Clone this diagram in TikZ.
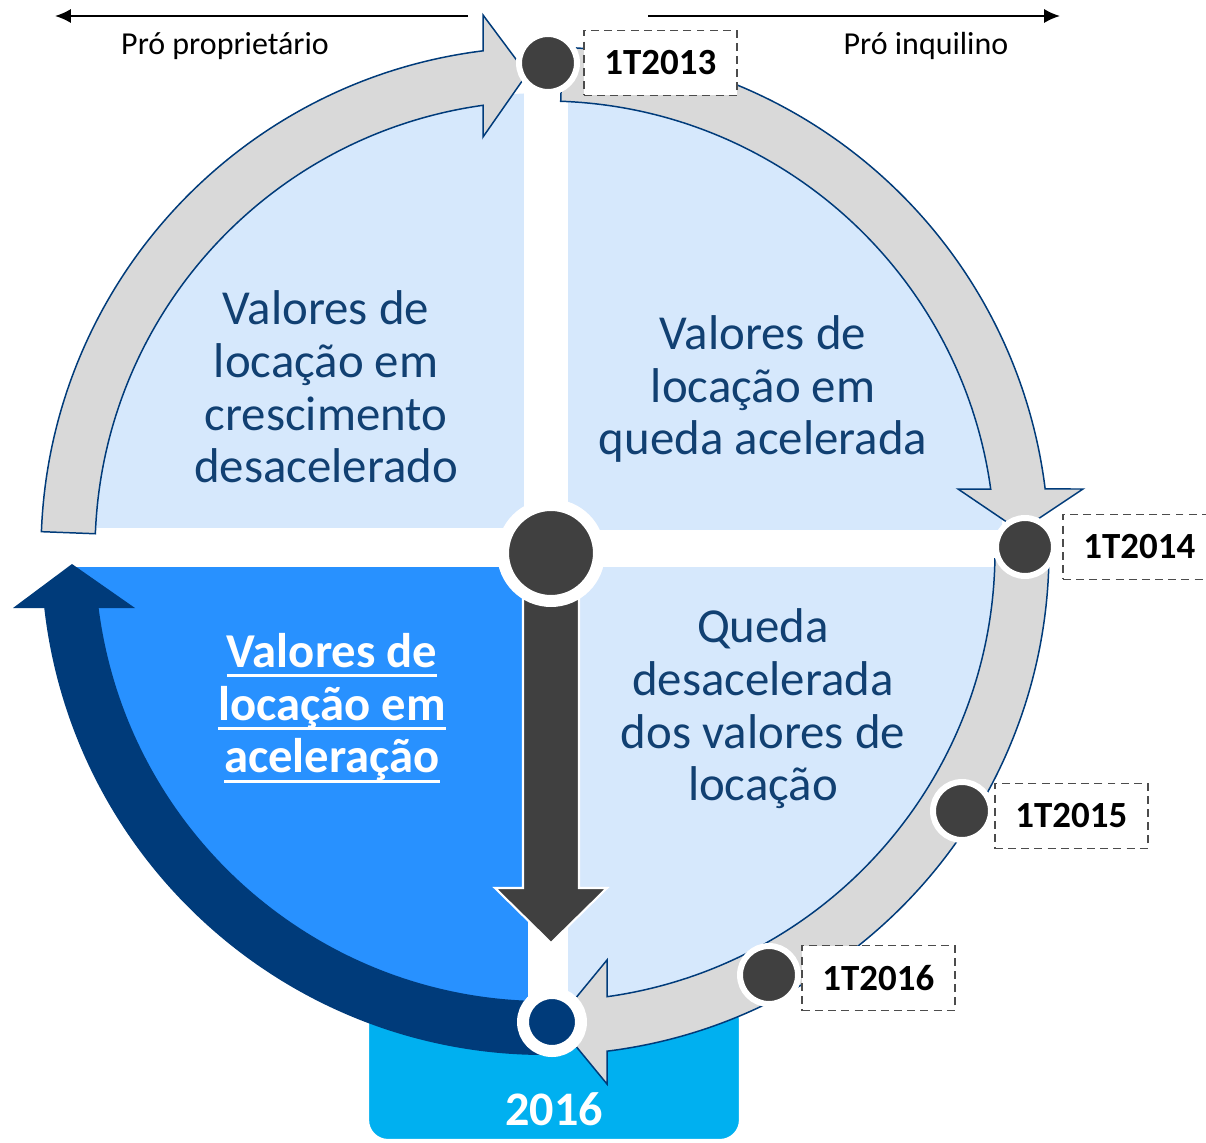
\documentclass[tikz,border=0pt]{standalone}
\usepackage{fontspec}
\setmainfont{Carlito}
\usepackage{tikz}
\usetikzlibrary{positioning, arrows.meta}

\newsavebox{\caixasub}
\newcommand{\sublinha}[1]{\sbox{\caixasub}{#1}\rlap{\rule[-5.5pt]{\wd\caixasub}{1.7pt}}\usebox{\caixasub}}

\definecolor{azulclaro}{RGB}{214,232,252}
\definecolor{azulvivo}{RGB}{40,145,255}
\definecolor{azulescuro}{RGB}{0,59,122}
\definecolor{cinzaanel}{RGB}{217,217,217}
\definecolor{cinzaponto}{RGB}{64,64,64}
\definecolor{ciano}{RGB}{0,176,240}
\definecolor{textoazul}{RGB}{17,64,114}

\tikzset{
  marco/.style={circle, fill=cinzaponto, draw=white, line width=0.12cm, minimum size=1.16cm, inner sep=0pt},
  rotulo/.style={draw=black!70, dash pattern=on 4.5pt off 3pt, line width=1pt, fill=white, minimum width=3.06cm, minimum height=1.3cm, inner sep=0pt, font=\fontsize{21}{24}\selectfont\bfseries},
  quadtexto/.style={align=center, text=textoazul, font=\fontsize{27.8}{30}\selectfont},
  anel/.style={fill=cinzaanel, draw=azulescuro, line width=0.85pt},
  setatopo/.style={-{Latex[length=9pt,width=8pt]}, line width=1.1pt},
}

\begin{document}
\begin{tikzpicture}[x=0.02cm, y=0.02cm]
\useasboundingbox (0,0) rectangle (1206,-1142);
\coordinate (O) at (545,-551);

% Caixa do ano
\node[fill=ciano, draw=white, line width=1.2pt, rounded corners=0.4cm, minimum width=7.44cm, minimum height=2.8cm] (ano) at (554,-1070) {};
\node[text=white, font=\fontsize{27.4}{30}\selectfont\bfseries] (anotxt) at ([yshift=0.64cm]ano.south) {2016};

% Quadrantes
\begin{scope}
\clip (O) circle[radius=470];
\fill[azulvivo] (0,-567) rectangle (528,-1142);
\end{scope}
\begin{scope}
\clip (O) circle[radius=458];
\fill[azulclaro] (0,-528) rectangle (524,0);
\fill[azulclaro] (568,-530) rectangle (1100,0);
\fill[azulclaro] (568,-567) rectangle (1100,-1142);
\end{scope}

% Setas do ciclo
\draw[anel] ([shift={(177.8:504)}]O) arc[start angle=177.8, end angle=97.05, radius=504]
  -- (483,-15) -- (527,-74) -- (483,-137)
  -- ([shift={(97.9:450)}]O) arc[start angle=97.9, end angle=177.8, radius=450] -- cycle;
\draw[anel] ([shift={(88:504)}]O) arc[start angle=88, end angle=7.07, radius=504]
  -- (1083,-489) -- (1020,-531) -- (958,-489)
  -- ([shift={(7.92:450)}]O) arc[start angle=7.92, end angle=88, radius=450] -- cycle;
\draw[anel] ([shift={(-1:504)}]O) arc[start angle=-1, end angle=-82.93, radius=504]
  -- (607,-1084) -- (556,-1022) -- (607,-960)
  -- ([shift={(-82.08:450)}]O) arc[start angle=-82.08, end angle=-1, radius=450] -- cycle;
\fill[azulescuro] ([shift={(-88:504)}]O) arc[start angle=-88, end angle=-173.5, radius=504]
  -- (13,-608) -- (72,-564) -- (135,-608)
  -- ([shift={(-172.7:450)}]O) arc[start angle=-172.7, end angle=-88, radius=450] -- cycle;

% Seta central
\draw[fill=cinzaponto, draw=white, line width=1.2pt] (523,-553) -- (523,-888) -- (495,-888) -- (551,-943)
  -- (607,-888) -- (579,-888) -- (579,-553) -- cycle;

% Textos dos quadrantes
\node[quadtexto] (cresc) at (326,-387) {Valores de\\locação em\\crescimento\\desacelerado};
\node[quadtexto] (quedaacel) at (763,-389) {Valores de\\locação em\\queda acelerada};
\node[quadtexto] (quedadesac) at (763,-709) {Queda\\desacelerada\\dos valores de\\locação};
\node[quadtexto, text=white, font=\fontsize{27.7}{30}\selectfont\bfseries] (acel) at (332,-708)
  {\sublinha{Valores de}\\\sublinha{locação em}\\\sublinha{aceleração}};

% Marcos
\node[marco] (d2013) at (548,-63) {};
\node[marco] (d2014) at (1025,-547) {};
\node[marco] (d2015) at (962,-811) {};
\node[marco] (d2016) at (769,-975) {};
\node[marco, minimum size=1.92cm, line width=0.24cm] (centro) at (551,-553) {};
\node[marco, fill=azulescuro, line width=0.24cm] (fim) at (552,-1022) {};

\node[rotulo, right=0.06cm of d2013] (l2013) {1T2013};
\node[rotulo, right=0.1cm of d2014] (l2014) {1T2014};
\node[rotulo, right=0cm of d2015, yshift=-0.1cm] (l2015) {1T2015};
\node[rotulo, right=0cm of d2016, yshift=-0.06cm] (l2016) {1T2016};

% Eixo superior
\coordinate (esqini) at (468,-16);
\coordinate (esqfim) at (55,-16);
\coordinate (dirini) at (648,-16);
\coordinate (dirfim) at (1060,-16);
\draw[setatopo] (esqini) -- (esqfim);
\draw[setatopo] (dirini) -- (dirfim);
\node[font=\fontsize{18.2}{20}\selectfont] (prop) at (225,-46) {Pró proprietário};
\node[font=\fontsize{18.2}{20}\selectfont] (inq) at (926,-46) {Pró inquilino};
\end{tikzpicture}
\end{document}
